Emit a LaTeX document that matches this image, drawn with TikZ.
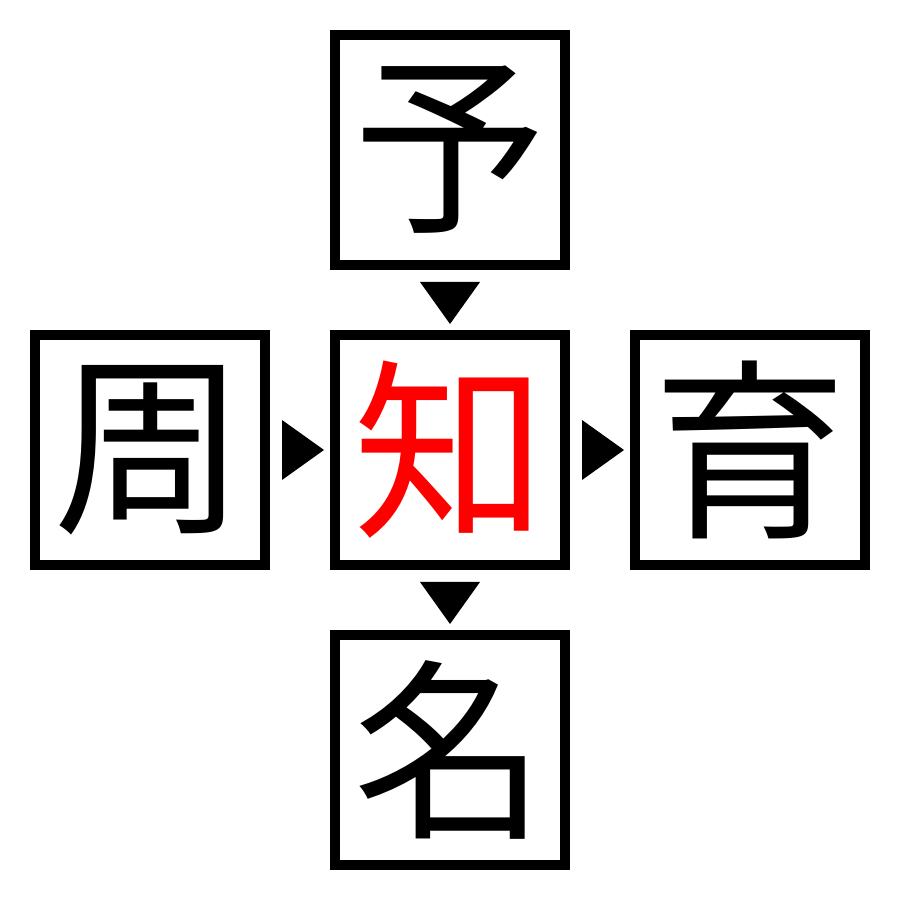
\documentclass[tikz,border=0pt]{standalone}
\usepackage{fontspec}
\newfontfamily\cjk{Noto Sans CJK JP}
\usepackage{tikz}

\tikzset{
	kanjibox/.style={draw, line width=0.1cm, minimum size=2.3cm, inner sep=0pt,
		font=\cjk\fontsize{55}{55}\selectfont},
}

\begin{document}
\begin{tikzpicture}
	
	\useasboundingbox (0,0) rectangle (9,9);
	
	\node[kanjibox] (mid) at (4.5,4.5) {\textcolor{red}{知}};
	\node[kanjibox] (top) at (4.5,7.5) {予};
	\node[kanjibox] (lft) at (1.5,4.5) {周};
	\node[kanjibox] (rgt) at (7.5,4.5) {育};
	\node[kanjibox] (bot) at (4.5,1.5) {名};
	
	\path (top.south) -- (mid.north) coordinate[midway] (tt);
	\path (mid.south) -- (bot.north) coordinate[midway] (tb);
	\path (lft.east) -- (mid.west) coordinate[midway] (tl);
	\path (mid.east) -- (rgt.west) coordinate[midway] (tr);
	
	\fill (tt) ++(-0.3,0.18) -- ++(0.6,0) -- ++(-0.3,-0.42) -- cycle;
	\fill (tb) ++(-0.3,0.18) -- ++(0.6,0) -- ++(-0.3,-0.42) -- cycle;
	\fill (tl) ++(-0.18,0.3) -- ++(0,-0.6) -- ++(0.42,0.3) -- cycle;
	\fill (tr) ++(-0.18,0.3) -- ++(0,-0.6) -- ++(0.42,0.3) -- cycle;
	
\end{tikzpicture}
\end{document}
